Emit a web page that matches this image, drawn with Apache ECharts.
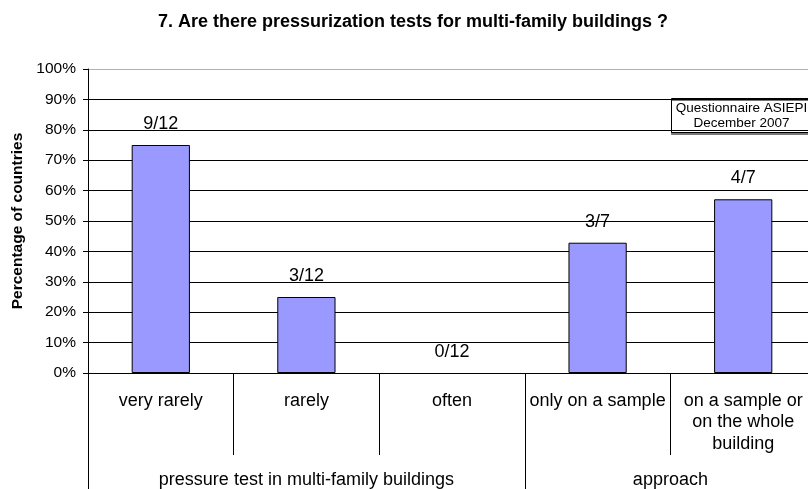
<!DOCTYPE html>
<html>
<head>
<meta charset="utf-8">
<script src="https://cdn.jsdelivr.net/npm/echarts@6/dist/echarts.min.js"></script>
<style>
  html, body { margin: 0; padding: 0; background: #fff; overflow: hidden; }
  /* the plot runs a little past the right edge of the window, as in the original */
  #main { width: 816px; height: 489px; }
</style>
</head>
<body>
<div id="main"></div>
<script>
// categories and answers (countries answering / countries asked)
const categories = ["very rarely", "rarely", "often", "only on a sample", "on a sample or\non the whole\nbuilding"]
const answered = [9, 3, 0, 3, 4]
const asked = [12, 12, 12, 7, 7]
// group labels below the categories
const groupNames = ["pressure test in multi-family buildings", "approach"]
const groupBounds = [0, 3, 5]
const yTicks = [0, 10, 20, 30, 40, 50, 60, 70, 80, 90, 100]

const percent = answered.map((n, i) => (n / asked[i]) * 100)
const groupCenters = groupNames.map((g, i) => (groupBounds[i] + groupBounds[i + 1]) / 2)

const font = "Liberation Sans, Arial, sans-serif"
var chart = echarts.init(document.getElementById("main"))
chart.setOption({
  animation: false,
  title: {
    text: "7. Are there pressurization tests for multi-family buildings ?",
    left: 408,
    textAlign: "center",
    top: 8,
    textStyle: { fontFamily: font, fontSize: 18, fontWeight: "bold", color: "#000" },
  },
  grid: { left: 88, right: 0, top: 69, bottom: 115 },
  xAxis: [
    {
      type: "category",
      data: categories,
      axisLine: { show: true, lineStyle: { color: "#000", width: 1 } },
      axisTick: { show: true, interval: 0, length: 82, lineStyle: { color: "#000" } },
      axisLabel: {
        interval: 0,
        margin: 17,
        fontFamily: font,
        fontSize: 18,
        color: "#000",
        lineHeight: 21.5,
        verticalAlign: "top",
      },
    },
    {
      type: "value",
      min: 0,
      max: 5,
      position: "bottom",
      axisLine: { show: false },
      splitLine: { show: false },
      axisTick: { show: true, customValues: groupBounds, length: 116, lineStyle: { color: "#000" } },
      axisLabel: {
        customValues: groupCenters,
        formatter: (v) => groupNames[groupCenters.indexOf(v)],
        margin: 98,
        fontFamily: font,
        fontSize: 18,
        color: "#000",
      },
    },
  ],
  yAxis: {
    type: "value",
    min: 0,
    max: 100,
    interval: 10,
    name: "Percentage of countries",
    nameLocation: "middle",
    nameGap: 62,
    nameTextStyle: { fontFamily: font, fontSize: 15.5, fontWeight: "bold", color: "#000" },
    axisLine: { show: true, lineStyle: { color: "#000" } },
    axisTick: { show: true, length: 5, lineStyle: { color: "#000" } },
    axisLabel: { formatter: "{value}%", margin: 12, fontFamily: font, fontSize: 15.5, color: "#000" },
    splitLine: {
      lineStyle: { color: yTicks.map((t) => (t === 100 ? "#b0b0b0" : "#000")), width: 1 },
    },
  },
  series: [
    {
      type: "bar",
      // a zero answer draws no bar outline, only its label
      data: percent.map((v) => ({ value: v, itemStyle: v === 0 ? { borderWidth: 0 } : {} })),
      barWidth: "40%",
      itemStyle: { color: "#9999FF", borderColor: "#000", borderWidth: 1 },
      label: {
        show: true,
        position: "top",
        distance: 12,
        formatter: (p) => answered[p.dataIndex] + "/" + asked[p.dataIndex],
        fontFamily: font,
        fontSize: 18,
        color: "#000",
      },
    },
  ],
  graphic: [
    {
      type: "group",
      left: 671,
      top: 98,
      children: [
        {
          type: "rect",
          shape: { x: 0, y: 0, width: 150, height: 34 },
          style: { fill: "#fff", stroke: "#000", lineWidth: 1, shadowColor: "#777", shadowOffsetY: 2, shadowBlur: 0 },
        },
        {
          type: "text",
          x: 70,
          y: 2,
          style: {
            text: "Questionnaire ASIEPI\nDecember 2007",
            align: "center",
            fontFamily: font,
            fontSize: 13.5,
            lineHeight: 15.5,
            fill: "#000",
          },
        },
      ],
    },
  ],
})
</script>
</body>
</html>
